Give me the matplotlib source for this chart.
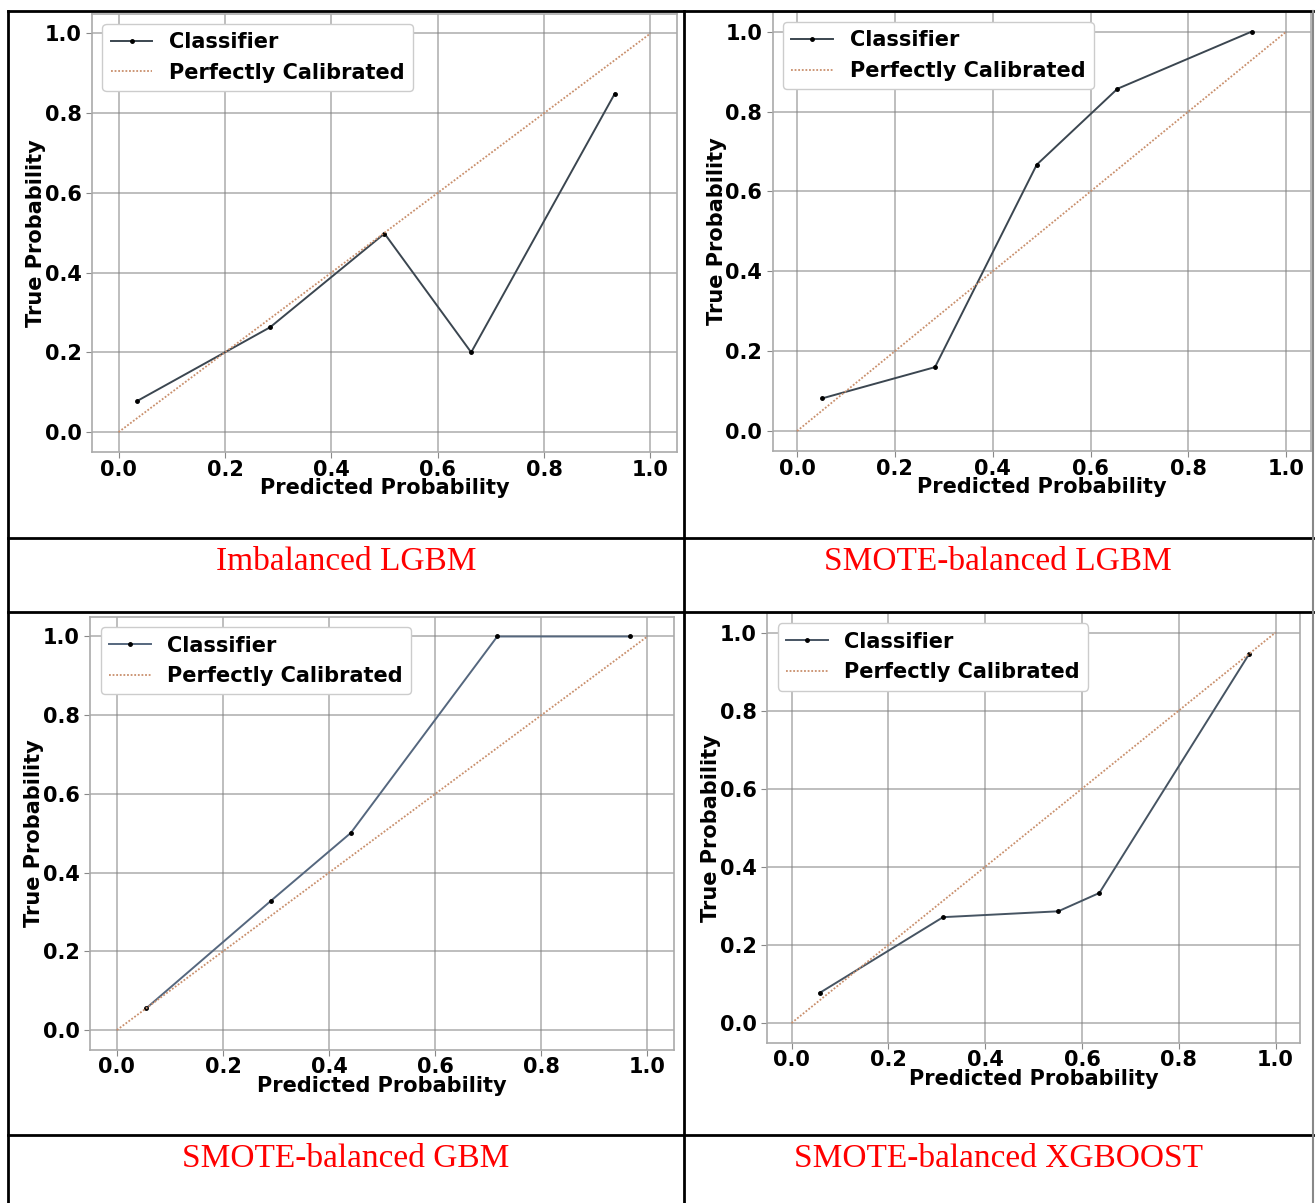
import matplotlib
matplotlib.use("Agg")
import matplotlib.pyplot as plt
from matplotlib.lines import Line2D

# Calibration curves
captions = ["Imbalanced LGBM", "SMOTE-balanced LGBM",
            "SMOTE-balanced GBM", "SMOTE-balanced XGBOOST"]

lgbm_x = [0.035, 0.285, 0.500, 0.663, 0.933]
lgbm_y = [0.078, 0.263, 0.498, 0.200, 0.849]

smote_lgbm_x = [0.052, 0.282, 0.490, 0.655, 0.929]
smote_lgbm_y = [0.082, 0.160, 0.667, 0.857, 1.000]

smote_gbm_x = [0.055, 0.290, 0.441, 0.717, 0.968]
smote_gbm_y = [0.055, 0.328, 0.501, 1.000, 1.000]

smote_xgb_x = [0.058, 0.313, 0.551, 0.636, 0.946]
smote_xgb_y = [0.077, 0.271, 0.286, 0.333, 0.946]

ideal = [0.0, 1.0]
ticks = [0.0, 0.2, 0.4, 0.6, 0.8, 1.0]

curves = [(lgbm_x, lgbm_y), (smote_lgbm_x, smote_lgbm_y),
          (smote_gbm_x, smote_gbm_y), (smote_xgb_x, smote_xgb_y)]

W, H = 1315, 1203
fig = plt.figure(figsize=(W / 100, H / 100), dpi=100)
fig.patch.set_facecolor("white")

# axes boxes in pixels: left, top, right, bottom
boxes = [(92, 13.5, 677, 452),
         (772.6, 11.7, 1310.7, 451),
         (90.4, 616.8, 673.9, 1049.7),
         (767.4, 613, 1299.7, 1042.5)]
line_colors = ["#3b4650", "#3b4650", "#55677e", "#465462"]

for (l, t, r, b), (xs, ys), lc in zip(boxes, curves, line_colors):
    ax = fig.add_axes([l / W, 1 - b / H, (r - l) / W, (b - t) / H])
    ax.plot(xs, ys, color=lc, lw=1.4, marker=".", markersize=5,
            markerfacecolor="black", markeredgecolor="black", label="Classifier")
    ax.plot(ideal, ideal, color="#c98f6c", ls=(0, (1, 1)), lw=1.3,
            label="Perfectly Calibrated")
    ax.set_xlim(-0.05, 1.05)
    ax.set_ylim(-0.05, 1.05)
    ax.set_xticks(ticks)
    ax.set_yticks(ticks)
    ax.grid(True, color="gray", alpha=0.6, lw=1.2)
    for s in ax.spines.values():
        s.set_color("#aaaaaa")
        s.set_linewidth(1.2)
    ax.tick_params(colors="#888888", labelcolor="black", labelsize=15, length=4)
    ax.tick_params(axis="x", pad=1.5)
    for lab in ax.get_xticklabels() + ax.get_yticklabels():
        lab.set_fontweight("bold")
    ax.set_xlabel("Predicted Probability", fontsize=15, fontweight="bold", labelpad=-1)
    ax.set_ylabel("True Probability", fontsize=15, fontweight="bold", labelpad=-1)
    ax.legend(loc="upper left", prop={"size": 15, "weight": "bold"},
              handlelength=2.0, framealpha=1.0)

# table borders
def hline(y, x0, x1, color="black", lw=2):
    fig.add_artist(Line2D([x0 / W, x1 / W], [1 - y / H, 1 - y / H], color=color,
                          lw=lw, transform=fig.transFigure, zorder=10))

def vline(x, y0, y1, color="black", lw=2):
    fig.add_artist(Line2D([x / W, x / W], [1 - y0 / H, 1 - y1 / H], color=color,
                          lw=lw, transform=fig.transFigure, zorder=10))

for y in [11, 538, 612, 1135]:
    hline(y, 8, 1313)
vline(8, 11, 1203)
vline(684, 11, 1203)
vline(1313, 11, 1203, color="#888888", lw=1.5)

# red captions
cap_pos = [(346, 562), (998, 562), (346, 1159), (998, 1159)]
for text, (cx, cy) in zip(captions, cap_pos):
    fig.text(cx / W, 1 - cy / H, text, color="red", fontsize=24,
             family="Liberation Serif", ha="center", va="center")

fig.savefig("out.png", dpi=100)
